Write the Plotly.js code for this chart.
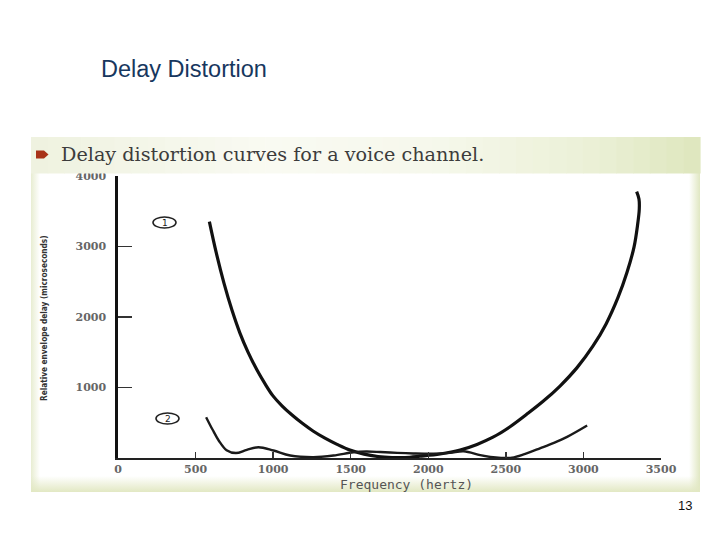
<!DOCTYPE html>
<html>
<head>
<meta charset="utf-8">
<script src="https://cdn.plot.ly/plotly-3.0.1.min.js"></script>
<style>
  html, body { margin: 0; padding: 0; background: #ffffff; }
  #wrap { position: relative; width: 720px; height: 540px; overflow: hidden; }
  #frame {
    position: absolute; left: 31px; top: 137px; width: 669px; height: 355px;
    background:
      linear-gradient(to top, #e2e8c3 0px, rgba(255,255,255,0) 16px),
      linear-gradient(to right, #e8edd2 0px, rgba(255,255,255,0) 9px, rgba(255,255,255,0) 658px, #e0e7c2 669px),
      #ffffff;
  }
  #chart { position: absolute; left: 0; top: 0; width: 720px; height: 540px; }
</style>
</head>
<body>
<div id="wrap">
  <div id="frame"></div>
  <div id="chart"></div>
</div>
<script>
// ---- data ----
const curve1Freq  = [589, 632, 683, 735, 786, 838, 896, 948, 999, 1057, 1122, 1186, 1257, 1334, 1412, 1495, 1586, 1676, 1766, 1850, 1946, 2076, 2205, 2314, 2417, 2527, 2636, 2740, 2849, 2959, 3062, 3146, 3223, 3281, 3326, 3349, 3360, 3358, 3343];
const curve1Delay = [3352, 2923, 2481, 2095, 1772, 1502, 1247, 1051, 881, 740, 609, 495, 383, 281, 193, 112, 55, 21, 7, 6, 25, 57, 113, 193, 295, 444, 623, 804, 1021, 1282, 1589, 1902, 2277, 2634, 2991, 3305, 3532, 3674, 3777];

const curve2Freq  = [568, 610, 650, 700, 760, 830, 905, 1002, 1110, 1260, 1389, 1518, 1600, 1690, 1800, 1903, 2034, 2140, 2228, 2335, 2400, 2470, 2540, 2620, 2723, 2810, 2895, 3024];
const curve2Delay = [579, 400, 245, 110, 70, 115, 153, 106, 35, 12, 35, 82, 92, 85, 72, 64, 60, 72, 95, 40, 15, 2, 5, 55, 140, 215, 300, 461];

const xTickVals = [0, 500, 1000, 1500, 2000, 2500, 3000, 3500];
const xTickText = ['0', '500', '1000', '1500', '2000', '2500', '3000', '3500'];
const yTickVals = [1000, 2000, 3000, 4000];
const yTickText = ['1000', '2000', '3000', '4000'];

const slideTitle = 'Delay Distortion';
const figCaption = 'Delay distortion curves for a voice channel.';
const xTitle = 'Frequency (hertz)';
const yTitle = 'Relative envelope delay (microseconds)';
const curveLabels = ['1', '2'];
const pageNumber = '13';

// ---- layout geometry ----
const W = 720, H = 540, L = 118, R = 59, T = 176, B = 82;
const PW = W - L - R, PH = H - T - B;
const px = x => (x - L) / PW;
const py = y => (H - B - y) / PH;

function hex(c) { return [parseInt(c.slice(1,3),16), parseInt(c.slice(3,5),16), parseInt(c.slice(5,7),16)]; }
function mix(a, b, t) { const A = hex(a), Bc = hex(b); return 'rgb(' + A.map((v,i) => Math.round(v + (Bc[i]-v)*t)).join(',') + ')'; }
const stops = [[0, '#eff2e0'], [0.35, '#f9faf2'], [0.6, '#f6f8ec'], [0.85, '#ebf0d6'], [1, '#dfe7bf']];
function gradColor(t) {
  for (let i = 0; i < stops.length - 1; i++) {
    if (t <= stops[i+1][0]) {
      const u = (t - stops[i][0]) / (stops[i+1][0] - stops[i][0]);
      return mix(stops[i][1], stops[i+1][1], u);
    }
  }
  return stops[stops.length-1][1];
}

const shapes = [];
// header band (gradient by slices), drawn above so it trims the top tick label
const hx0 = 31, hx1 = 700, hy0 = 137, hy1 = 173.5, N = 40;
for (let i = 0; i < N; i++) {
  const a = hx0 + (hx1 - hx0) * i / N, b = hx0 + (hx1 - hx0) * (i + 1) / N + 0.6;
  shapes.push({type: 'rect', xref: 'paper', yref: 'paper', layer: 'above',
    x0: px(a), x1: px(b), y0: py(hy1), y1: py(hy0),
    fillcolor: gradColor(i / (N - 1)), line: {width: 0}});
}
// bullet arrow
shapes.push({type: 'path', xref: 'paper', yref: 'paper', layer: 'above',
  path: 'M ' + px(36) + ' ' + py(150.5) + ' L ' + px(44) + ' ' + py(150.5) + ' L ' + px(48.5) + ' ' + py(154.5) +
        ' L ' + px(44) + ' ' + py(158.5) + ' L ' + px(36) + ' ' + py(158.5) + ' Z',
  fillcolor: '#a83218', line: {width: 0}});
// curve label ellipses
const ell = [[164.5, 222.5], [167.5, 418.5]];
ell.forEach(c => shapes.push({type: 'circle', xref: 'paper', yref: 'paper', layer: 'above',
  x0: px(c[0] - 11.5), x1: px(c[0] + 11.5), y0: py(c[1] + 5.5), y1: py(c[1] - 5.5),
  line: {color: '#222', width: 1.6}, fillcolor: 'rgba(0,0,0,0)'}));

const annotations = [
  {text: figCaption, xref: 'paper', yref: 'paper', x: px(59), y: py(154), xanchor: 'left', yanchor: 'middle',
   showarrow: false, font: {family: 'DejaVu Serif, Liberation Serif, serif', size: 19.2, color: '#3c3c3c'}},
  {text: xTitle, xref: 'paper', yref: 'paper', x: px(406), y: py(484), xanchor: 'center', yanchor: 'middle',
   showarrow: false, font: {family: 'DejaVu Sans Mono, monospace', size: 13, color: '#555'}},
  {text: yTitle, xref: 'paper', yref: 'paper', x: px(44), y: py(318), xanchor: 'center', yanchor: 'middle',
   textangle: -90, showarrow: false, font: {family: 'DejaVu Sans Condensed, Liberation Sans Narrow, sans-serif', size: 8.2, color: '#333', weight: 'bold'}},
  {text: pageNumber, xref: 'paper', yref: 'paper', x: px(694), y: py(505), xanchor: 'right', yanchor: 'middle',
   showarrow: false, font: {family: 'Liberation Sans, Arial, sans-serif', size: 13, color: '#111'}},
  {text: curveLabels[0], xref: 'paper', yref: 'paper', x: px(ell[0][0]), y: py(ell[0][1]), xanchor: 'center', yanchor: 'middle',
   showarrow: false, font: {family: 'DejaVu Sans, sans-serif', size: 9, color: '#222'}},
  {text: curveLabels[1], xref: 'paper', yref: 'paper', x: px(ell[1][0]), y: py(ell[1][1]), xanchor: 'center', yanchor: 'middle',
   showarrow: false, font: {family: 'DejaVu Sans, sans-serif', size: 9, color: '#222'}}
];

const traces = [
  {x: curve1Freq, y: curve1Delay, type: 'scatter', mode: 'lines', name: 'Curve 1',
   line: {color: '#111', width: 3.2, shape: 'spline', smoothing: 1}},
  {x: curve2Freq, y: curve2Delay, type: 'scatter', mode: 'lines', name: 'Curve 2',
   line: {color: '#1a1a1a', width: 2.4, shape: 'spline', smoothing: 1}}
];

const tickFont = {family: 'DejaVu Serif, Liberation Serif, serif', size: 11, color: '#666', weight: 'bold'};

const layout = {
  width: W, height: H,
  margin: {l: L, r: R, t: T, b: B, pad: 0},
  paper_bgcolor: 'rgba(0,0,0,0)', plot_bgcolor: 'rgba(0,0,0,0)',
  showlegend: false,
  title: {text: slideTitle, xref: 'container', yref: 'container', x: 101 / W, xanchor: 'left',
          y: 1 - 69 / H, yanchor: 'middle',
          font: {family: 'Liberation Sans, Arial, sans-serif', size: 23.5, color: '#17375e'}},
  xaxis: {range: [0, 3500], tickmode: 'array', tickvals: xTickVals, ticktext: xTickText,
          ticks: 'inside', ticklen: 6, tickwidth: 1.3, tickcolor: '#333',
          showline: true, linecolor: '#222', linewidth: 1.6, showgrid: false, zeroline: false,
          tickfont: tickFont, fixedrange: true},
  yaxis: {range: [0, 4000], tickmode: 'array', tickvals: yTickVals, ticktext: yTickText,
          ticks: 'inside', ticklen: 14, tickwidth: 1.3, tickcolor: '#333',
          showline: true, linecolor: '#111', linewidth: 2.6, showgrid: false, zeroline: false,
          tickfont: tickFont, ticklabelstandoff: 7, fixedrange: true},
  shapes: shapes,
  annotations: annotations
};

Plotly.newPlot('chart', traces, layout, {displayModeBar: false, staticPlot: true});
</script>
</body>
</html>
